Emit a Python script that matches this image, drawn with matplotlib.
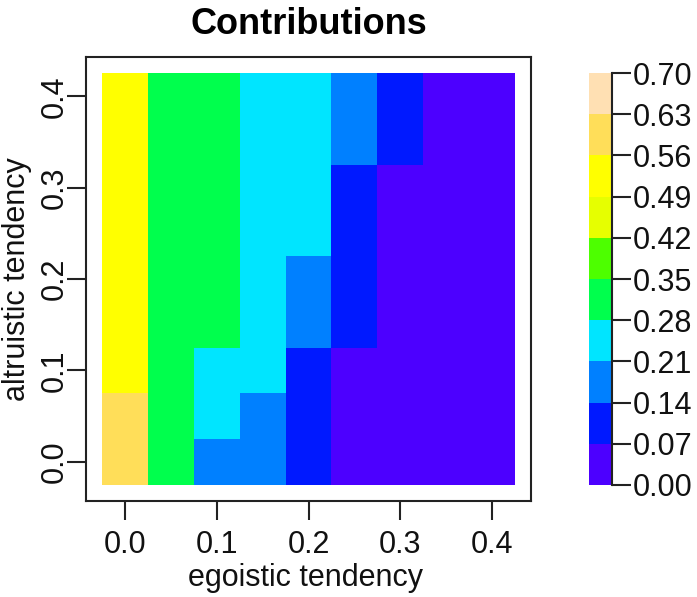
import matplotlib
matplotlib.use("Agg")
import matplotlib.pyplot as plt
from matplotlib.colors import ListedColormap, BoundaryNorm
import numpy as np

plt.rcParams["font.family"] = ["Liberation Sans", "DejaVu Sans"]

# grid of tendencies
egoistic = [0.0, 0.05, 0.1, 0.15, 0.2, 0.25, 0.3, 0.35, 0.4]
altruistic = [0.0, 0.05, 0.1, 0.15, 0.2, 0.25, 0.3, 0.35, 0.4]

# contributions, one row per altruistic value (bottom to top), columns = egoistic
contrib = [
    [0.60, 0.32, 0.18, 0.18, 0.10, 0.03, 0.02, 0.01, 0.01],
    [0.58, 0.32, 0.24, 0.17, 0.09, 0.03, 0.02, 0.01, 0.01],
    [0.54, 0.31, 0.23, 0.24, 0.08, 0.04, 0.02, 0.01, 0.01],
    [0.53, 0.31, 0.29, 0.25, 0.17, 0.09, 0.03, 0.02, 0.01],
    [0.53, 0.31, 0.29, 0.25, 0.16, 0.10, 0.04, 0.02, 0.01],
    [0.52, 0.31, 0.29, 0.26, 0.22, 0.11, 0.05, 0.02, 0.01],
    [0.52, 0.30, 0.29, 0.26, 0.23, 0.12, 0.06, 0.03, 0.01],
    [0.52, 0.30, 0.29, 0.26, 0.23, 0.15, 0.08, 0.03, 0.02],
    [0.51, 0.30, 0.29, 0.26, 0.24, 0.16, 0.09, 0.04, 0.02],
]

levels = [0.00, 0.07, 0.14, 0.21, 0.28, 0.35, 0.42, 0.49, 0.56, 0.63, 0.70]
level_labels = ["0.00", "0.07", "0.14", "0.21", "0.28", "0.35", "0.42", "0.49", "0.56", "0.63", "0.70"]
# R topo.colors(10)
topo = ["#4C00FF", "#0019FF", "#0080FF", "#00E5FF", "#00FF4D",
        "#4DFF00", "#E6FF00", "#FFFF00", "#FFDE59", "#FFE0B3"]

cmap = ListedColormap(topo)
norm = BoundaryNorm(levels, cmap.N)

W, H = 697, 597
fig = plt.figure(figsize=(W / 100, H / 100), dpi=100)
fig.patch.set_facecolor("white")

ax = fig.add_axes([86 / W, 1 - 501 / H, 445 / W, 444 / H])
x = np.array(egoistic)
y = np.array(altruistic)
dx = (x[1] - x[0]) / 2
dy = (y[1] - y[0]) / 2
xe = np.append(x - dx, x[-1] + dx)
ye = np.append(y - dy, y[-1] + dy)
ax.pcolormesh(xe, ye, np.array(contrib), cmap=cmap, norm=norm)

padx = 0.04 * (xe[-1] - xe[0])
pady = 0.04 * (ye[-1] - ye[0])
ax.set_xlim(xe[0] - padx, xe[-1] + padx)
ax.set_ylim(ye[0] - pady, ye[-1] + pady)

ticks = [0.0, 0.1, 0.2, 0.3, 0.4]
ax.set_xticks(ticks)
ax.set_xticklabels(["0.0", "0.1", "0.2", "0.3", "0.4"])
ax.set_yticks(ticks)
ax.set_yticklabels(["0.0", "0.1", "0.2", "0.3", "0.4"], rotation=90, va="center")
ax.tick_params(axis="both", length=14, width=1.5, labelsize=22,
               color="#222222", labelcolor="#111111")
ax.tick_params(axis="x", pad=7)
ax.tick_params(axis="y", pad=-2)
for s in ax.spines.values():
    s.set_linewidth(1.5)
    s.set_color("#222222")
ax.set_xlabel("egoistic tendency", fontsize=22, color="#111111")
ax.set_ylabel("altruistic tendency", fontsize=22, color="#111111")
ax.xaxis.label.set_verticalalignment("center")
ax.yaxis.label.set_verticalalignment("center")
ax.xaxis.set_label_coords(0.494, (501 - 578) / 444)
ax.yaxis.set_label_coords((17 - 86) / 445, 0.5)

fig.text(308.5 / W, 1 - 24 / H, "Contributions", ha="center", va="center",
         fontsize=26, fontweight="bold")

# colour key
cax = fig.add_axes([589 / W, 1 - 485 / H, 23 / W, 412 / H])
cax.pcolormesh([0, 1], levels, np.array(levels[:-1]).reshape(-1, 1) + 0.035,
               cmap=cmap, norm=norm)
cax.set_xlim(0, 1)
cax.set_ylim(levels[0], levels[-1])
cax.set_xticks([])
cax.yaxis.tick_right()
cax.set_yticks(levels)
cax.set_yticklabels(level_labels)
cax.tick_params(axis="y", length=14, width=1.5, labelsize=22, pad=1,
                color="#222222", labelcolor="#111111")
for side in ["top", "bottom", "left"]:
    cax.spines[side].set_visible(False)
cax.spines["right"].set_linewidth(1.5)
cax.spines["right"].set_color("#222222")

fig.savefig("out.png", dpi=100, facecolor="white")
